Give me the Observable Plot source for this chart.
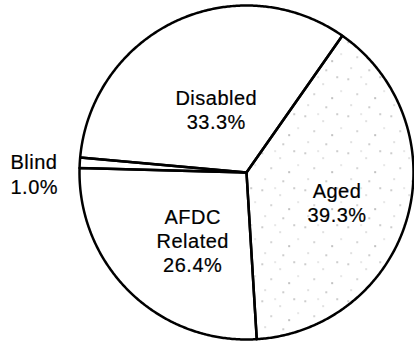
<!DOCTYPE html>
<html>
<head>
<meta charset="utf-8">
<script src="https://cdn.jsdelivr.net/npm/d3@7"></script>
<script src="https://cdn.jsdelivr.net/npm/@observablehq/plot@0.6"></script>
<style>
  html, body { margin: 0; padding: 0; background: #fff; }
  #chart svg { display: block; }
</style>
</head>
<body>
<div id="chart"></div>
<script>
// Recipient categories and their share of the total (percent)
const categories = ["Aged", "AFDC Related", "Blind", "Disabled"];
const shares = [39.3, 26.4, 1.0, 33.3];

// Layout (pixels)
const W = 414, H = 346;
const CX = 246, CY = 172, R = 167;
const START_DEG = 35; // first slice boundary, clockwise from 12 o'clock

const rows = categories.map((name, i) => ({name, share: shares[i]}));
const start = START_DEG * Math.PI / 180;
const arcs = d3.pie().sort(null).value(d => d.share)
  .startAngle(start).endAngle(start + 2 * Math.PI)(rows);

// Unit-radius polar → data coordinates (y up)
const polar = (a, r) => ({x: r * Math.sin(a), y: r * Math.cos(a)});

// Closed wedge outline for each slice
const slicePts = arcs.flatMap(arc => {
  const span = arc.endAngle - arc.startAngle;
  const n = Math.max(2, Math.ceil(span / (Math.PI / 360)));
  const pts = [polar(0, 0)];
  for (let k = 0; k <= n; k++) pts.push(polar(arc.startAngle + span * k / n, 1));
  pts.push(polar(0, 0));
  return pts.map(p => ({...p, name: arc.data.name}));
});

// Label text: name (space in two-word names becomes a line break) + share
const labelText = d => `${d.data.name.replace(" ", "\n")}\n${d.data.share.toFixed(1)}%`;

// Inside labels sit along each wedge's mid-angle
const inside = {Aged: [0.57, 0.04], "AFDC Related": [0.52, -0.1], Disabled: [0.42, -0.01]};
const insideLabels = arcs.filter(a => a.data.name in inside).map(a => {
  const [rf, da] = inside[a.data.name];
  const mid = (a.startAngle + a.endAngle) / 2 + da;
  return {...polar(mid, rf), text: labelText(a)};
});
const outsideLabels = arcs.filter(a => !(a.data.name in inside)).map(a => {
  const mid = (a.startAngle + a.endAngle) / 2;
  return {...polar(mid, 1), text: labelText(a)};
});

const chart = Plot.plot({
  width: W,
  height: H,
  margin: 0,
  x: {domain: [-CX / R, (W - CX) / R], axis: null},
  y: {domain: [-(H - CY) / R, CY / R], axis: null},
  style: {
    fontFamily: "'Liberation Sans', Arial, Helvetica, sans-serif",
    fontSize: "20px",
    letterSpacing: "0.5px",
    background: "#fff",
    color: "#000"
  },
  marks: [
    Plot.line(slicePts.filter(d => d.name === "Aged"), {
      x: "x", y: "y", fill: "url(#stipple)", stroke: "none"
    }),
    Plot.line(slicePts, {
      x: "x", y: "y", z: "name", stroke: "#000", strokeWidth: 2.5
    }),
    Plot.text(insideLabels, {
      x: "x", y: "y", text: "text", fontSize: 20, lineHeight: 1.2,
      lineAnchor: "middle", fill: "#000", stroke: "#000", strokeWidth: 0.2
    }),
    Plot.text(outsideLabels, {
      y: "y", frameAnchor: "left", dx: 10, dy: 11, text: "text", fontSize: 20,
      lineHeight: 1.25, lineAnchor: "middle", textAnchor: "start",
      fill: "#000", stroke: "#000", strokeWidth: 0.2
    })
  ]
});

// Sparse stipple texture for the Aged wedge
chart.insertAdjacentHTML("afterbegin", `
<defs>
  <pattern id="stipple" patternUnits="userSpaceOnUse" width="43" height="37">
    <rect width="43" height="37" fill="#fff"/>
    <rect x="3" y="4" width="1.4" height="1.4" fill="#999"/>
    <rect x="21" y="9" width="1.2" height="1.2" fill="#aaa"/>
    <rect x="35" y="2" width="1.3" height="1.3" fill="#888"/>
    <rect x="12" y="19" width="1.3" height="1.3" fill="#999"/>
    <rect x="30" y="23" width="1.2" height="1.2" fill="#555"/>
    <rect x="6" y="30" width="1.2" height="1.2" fill="#aaa"/>
    <rect x="24" y="32" width="1.4" height="1.4" fill="#999"/>
    <rect x="39" y="16" width="1.2" height="1.2" fill="#bbb"/>
    <rect x="16" y="2" width="1.2" height="1.2" fill="#bbb"/>
  </pattern>
</defs>`);

document.getElementById("chart").append(chart);
</script>
</body>
</html>
